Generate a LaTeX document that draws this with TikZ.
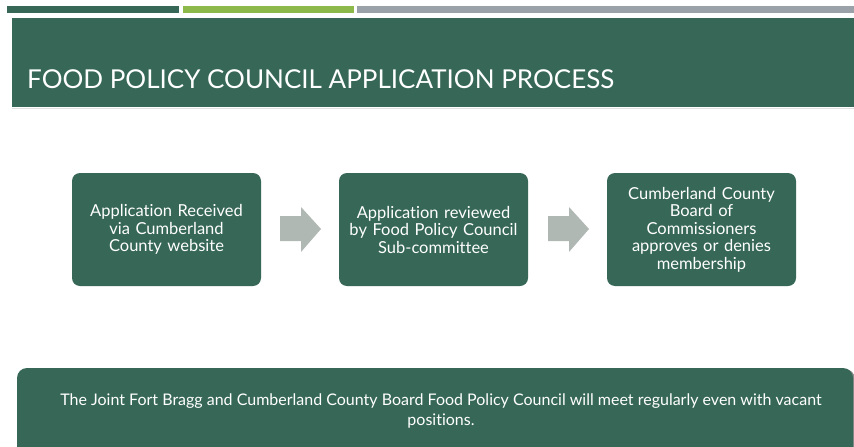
\documentclass[tikz,border=0pt]{standalone}
\usepackage{fontspec}
\setmainfont{Lato}[Ligatures=NoCommon]
\definecolor{dkgreen}{HTML}{366757}
\definecolor{ltgreen}{HTML}{8DB84A}
\definecolor{bargray}{HTML}{9BA1A9}
\definecolor{arrowgray}{HTML}{B0B8B3}
\begin{document}
\begin{tikzpicture}[x=1pt,y=-1pt,
  stepbox/.style={fill=dkgreen, rounded corners=8pt, minimum width=189pt, minimum height=113pt,
    text=white, align=center, text width=180pt, inner sep=0pt,
    font=\fontsize{16.5}{17.5}\selectfont},
  blockarrow/.style={fill=arrowgray, draw=none}]
\fill[white] (0,0) rectangle (854,447);
\useasboundingbox (0,0) rectangle (854,447);
% top bars
\fill[dkgreen] (7,6) rectangle (179,13);
\fill[ltgreen] (183,6) rectangle (354,13);
\fill[bargray] (357,6) rectangle (854,13);
% header
\fill[dkgreen] (12,18) rectangle (854,107);
\draw[black!12, line width=1pt] (12,108) -- (854,108);
\node[anchor=base west, text=white, inner sep=0pt, font=\fontsize{26}{30}\selectfont] (title) at (27,88) {FOOD POLICY COUNCIL APPLICATION PROCESS};
% step boxes
\node[stepbox] (b1) at (166.5,229.5) {Application Received\\via Cumberland\\County website};
\node[stepbox] (b2) at (433.5,229.5) {Application reviewed\\by Food Policy Council\\Sub-committee};
\node[stepbox] (b3) at (701.5,229.5) {Cumberland County\\Board of\\Commissioners\\approves or denies\\membership};
% block arrows
\fill[blockarrow] (280,216) -- (301,216) -- (301,207) -- (321,229) -- (301,252) -- (301,241) -- (280,241) -- cycle;
\fill[blockarrow] (548,216) -- (569,216) -- (569,207) -- (589,229) -- (569,252) -- (569,241) -- (548,241) -- cycle;
% bottom box
\fill[black!45, rounded corners=10pt] (18,369) rectangle (855,460);
\fill[dkgreen, rounded corners=10pt] (17,368) rectangle (853,460);
\node[text=white, align=center, inner sep=0pt, font=\fontsize{16}{19.5}\selectfont] (note) at (441,411)
  {The Joint Fort Bragg and Cumberland County Board Food Policy Council will meet regularly even with vacant\\positions.};
\end{tikzpicture}
\end{document}
